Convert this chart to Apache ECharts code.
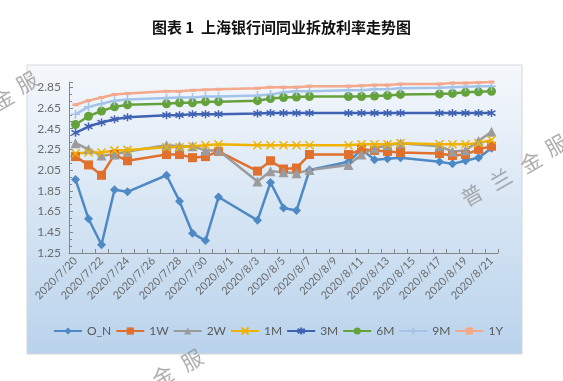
<!DOCTYPE html>
<html>
<head>
<meta charset="utf-8">
<script src="https://cdn.jsdelivr.net/npm/echarts@6/dist/echarts.min.js"></script>
<style>
html,body{margin:0;padding:0;background:#fff;}
#chart{width:563px;height:381px;}
</style>
</head>
<body>
<div id="chart"></div>
<script>
// Calendar days shown on the axis (tick labels every other day)
var axisDays = ['2020/7/20','2020/7/21','2020/7/22','2020/7/23','2020/7/24','2020/7/25','2020/7/26','2020/7/27','2020/7/28','2020/7/29','2020/7/30','2020/7/31','2020/8/1','2020/8/2','2020/8/3','2020/8/4','2020/8/5','2020/8/6','2020/8/7','2020/8/8','2020/8/9','2020/8/10','2020/8/11','2020/8/12','2020/8/13','2020/8/14','2020/8/15','2020/8/16','2020/8/17','2020/8/18','2020/8/19','2020/8/20','2020/8/21'];
// Trading days with data
var tradeDays = ['2020/7/20','2020/7/21','2020/7/22','2020/7/23','2020/7/24','2020/7/27','2020/7/28','2020/7/29','2020/7/30','2020/7/31','2020/8/3','2020/8/4','2020/8/5','2020/8/6','2020/8/7','2020/8/10','2020/8/11','2020/8/12','2020/8/13','2020/8/14','2020/8/17','2020/8/18','2020/8/19','2020/8/20','2020/8/21'];

var seriesNames = ['O_N','1W','2W','1M','3M','6M','9M','1Y'];
var vON = [1.96,1.58,1.33,1.86,1.84, 2.00,1.75,1.44,1.37,1.79, 1.565,1.93,1.685,1.66,2.05, 2.13,2.25,2.15,2.16,2.17, 2.13,2.11,2.14,2.17,2.26];
var v1W = [2.18,2.10,2.00,2.20,2.14, 2.20,2.20,2.17,2.18,2.23, 2.04,2.14,2.06,2.07,2.20, 2.20,2.25,2.24,2.23,2.22, 2.21,2.19,2.20,2.25,2.28];
var v2W = [2.31,2.25,2.19,2.20,2.23, 2.29,2.28,2.28,2.24,2.24, 1.94,2.04,2.03,2.02,2.05, 2.10,2.20,2.26,2.29,2.31, 2.28,2.23,2.24,2.33,2.42];
var v1M = [2.21,2.22,2.22,2.24,2.245, 2.27,2.27,2.28,2.29,2.30, 2.29,2.29,2.29,2.29,2.29, 2.29,2.30,2.30,2.30,2.31, 2.30,2.30,2.30,2.31,2.34];
var v3M = [2.41,2.47,2.51,2.54,2.56, 2.58,2.58,2.59,2.59,2.59, 2.595,2.60,2.60,2.60,2.60, 2.60,2.60,2.60,2.60,2.60, 2.60,2.60,2.60,2.60,2.60];
var v6M = [2.49,2.57,2.62,2.66,2.68, 2.69,2.70,2.70,2.71,2.71, 2.72,2.74,2.75,2.755,2.76, 2.76,2.76,2.765,2.77,2.78, 2.785,2.79,2.80,2.805,2.81];
var v9M = [2.59,2.66,2.69,2.72,2.73, 2.745,2.75,2.75,2.76,2.76, 2.77,2.78,2.80,2.81,2.81, 2.82,2.82,2.83,2.83,2.84, 2.845,2.85,2.855,2.86,2.86];
var v1Y = [2.68,2.72,2.75,2.78,2.79, 2.81,2.81,2.82,2.825,2.83, 2.84,2.85,2.85,2.85,2.86, 2.86,2.865,2.87,2.87,2.88, 2.88,2.89,2.89,2.895,2.90];

var yMin = 1.25, yMax = 2.9, yStep = 0.2;

var colors = ['#4e89c6','#e0702c','#9b9b9b','#efb200','#3f62b3','#64a23c','#a3c3e8','#f4a88c'];
var symbols = [
  'diamond',
  'rect',
  'triangle',
  'path://M0,0L10,10M10,0L0,10',
  'path://M5,0L5,10M0,2L10,8M10,2L0,8',
  'circle',
  'path://M5,0L5,10M0,5L10,5',
  'rect'
];
var symbolSizes = [9, 9, 10, 8, 8, 9, 9, [6,3]];
var strokeSym = [false,false,false,true,true,false,true,false];
var allVals = [vON,v1W,v2W,v1M,v3M,v6M,v9M,v1Y];

var series = seriesNames.map(function(name, i){
  var vals = allVals[i];
  return {
    name: name,
    type: 'line',
    data: tradeDays.map(function(d, k){ return [d, vals[k]]; }),
    symbol: symbols[i],
    symbolSize: symbolSizes[i],
    showAllSymbol: true,
    lineStyle: {color: colors[i], width: 2.5},
    itemStyle: strokeSym[i] ? {color: colors[i], borderColor: colors[i], borderWidth: 1.5} : {color: colors[i], borderWidth: 0},
    emphasis: {disabled: true},
    animation: false
  };
});

function wm(ch, x, y){
  return {type:'text', x:x, y:y, rotation:0.52, z:100,
    style:{text:ch, x:0, y:0, align:'center', verticalAlign:'middle', textAlign:'center', textVerticalAlign:'middle',
      font:'21px "Noto Sans CJK SC"', fill:'rgba(140,140,140,0.7)'}};
}

var chart = echarts.init(document.getElementById('chart'), null, {renderer:'canvas'});
chart.setOption({
  animation: false,
  color: colors,
  textStyle: {fontFamily: 'Lato, "Noto Sans", sans-serif'},
  title: {
    text: '图表 1  上海银行间同业拆放利率走势图',
    left: 'center', top: 15,
    textStyle: {fontFamily:'"Noto Sans CJK SC"', fontSize: 15, fontWeight: 'bold', color: '#111'}
  },
  graphic: [
    {type:'rect', shape:{x:27, y:65, width:495, height:289}, z:-10, silent:true,
     style:{fill:new echarts.graphic.LinearGradient(0,0,0,1,[{offset:0,color:'#f5f8fc'},{offset:1,color:'#b9d3ec'}]), stroke:'#d6d6d6', lineWidth:1}},
    wm('普', 472, 195), wm('兰', 501, 179), wm('金', 531, 162), wm('服', 556, 145),
    wm('兰', 135, 392), wm('金', 163, 376), wm('服', 192, 360),
    wm('金', 3, 99), wm('服', 27, 82)
  ],
  legend: {
    data: seriesNames,
    left: 53, top: 325, padding: 0,
    itemWidth: 28, itemHeight: 9, itemGap: 4,
    textStyle: {fontSize: 12, color: '#595959', fontFamily: 'Lato, "Noto Sans", sans-serif'},
    selectedMode: false
  },
  grid: {left: 69, right: 65, top: 82, bottom: 128, containLabel: false},
  xAxis: {
    type: 'category',
    data: axisDays,
    boundaryGap: true,
    axisLine: {lineStyle: {color: '#868686', width: 1}},
    axisTick: {show: true, inside: true, length: 4, interval: 0, lineStyle: {color: '#868686'}},
    axisLabel: {interval: 1, rotate: 45, fontSize: 11, color: '#6b6b6b', margin: 6},
    splitLine: {show: false}
  },
  yAxis: {
    type: 'value',
    min: yMin, max: yMax, interval: yStep,
    axisLine: {show: true, lineStyle: {color: '#868686', width: 1}},
    axisTick: {show: true, inside: true, length: 4, lineStyle: {color: '#868686'}},
    minorTick: {show: true, splitNumber: 3, length: 3, lineStyle: {color: '#868686'}},
    axisLabel: {fontSize: 12, color: '#6b6b6b', margin: 8, showMaxLabel: false,
      formatter: function(v){ return v.toFixed(2); }},
    splitLine: {show: false}
  },
  series: series
});
</script>
</body>
</html>
